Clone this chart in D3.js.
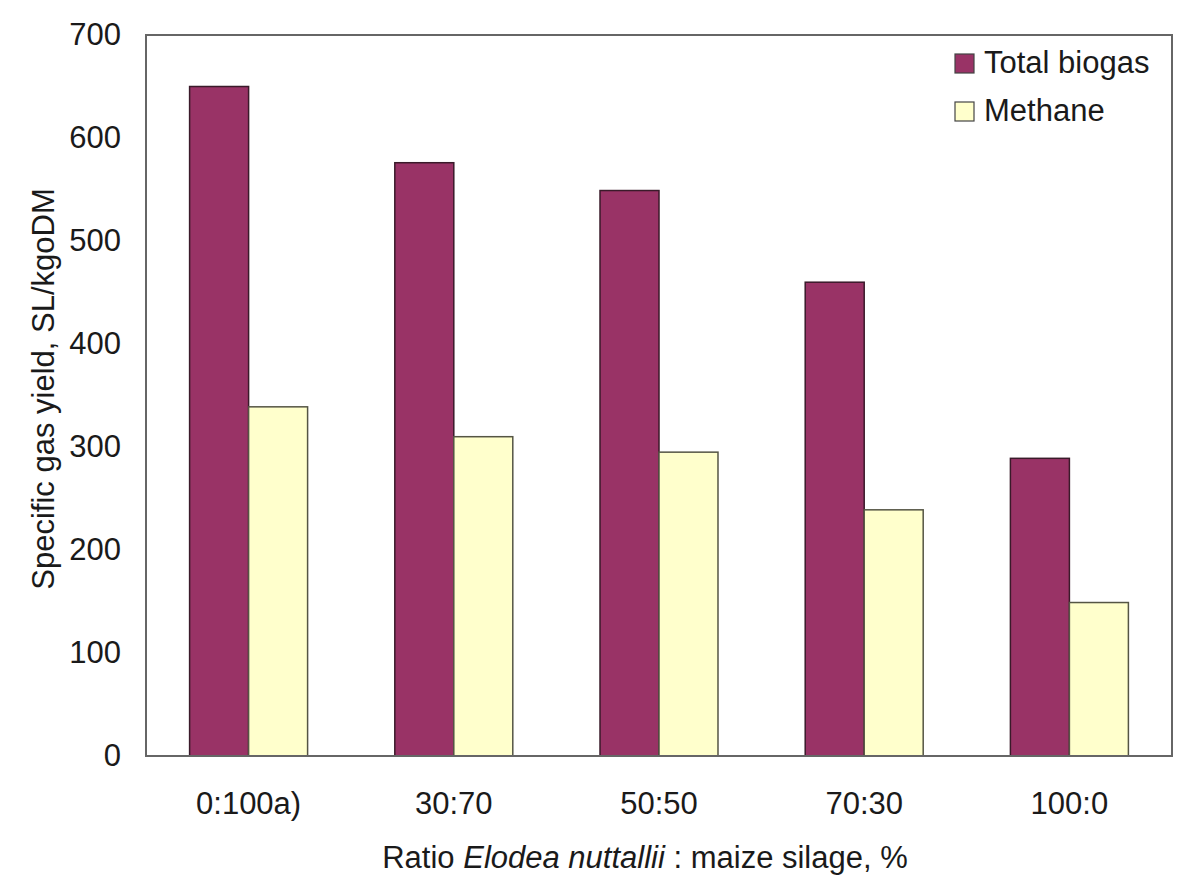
<!DOCTYPE html>
<html><head><meta charset="utf-8">
<script src="https://cdn.jsdelivr.net/npm/d3@7"></script>
<style>body{margin:0;background:#fff}svg text{font-family:"Liberation Sans",Arial,sans-serif;fill:#1a1a1a}</style>
</head><body><svg id="c" width="1200" height="884"></svg>
<script>
const categories = ["0:100a)", "30:70", "50:50", "70:30", "100:0"];
const totalBiogas = [650, 576, 549, 460, 289];
const methane = [339, 310, 295, 239, 149];
const seriesNames = ["Total biogas", "Methane"];
const seriesColors = ["#993366", "#FFFFCC"];
const yTicks = [0, 100, 200, 300, 400, 500, 600, 700];

const FS = "31px";
const svg = d3.select("#c");
const m = {l:146, r:1172, t:35, b:756};
const x = d3.scaleBand().domain(categories).range([m.l, m.r]).paddingInner(0.425).paddingOuter(0.2125);
const xs = d3.scaleBand().domain(seriesNames).range([0, x.bandwidth()]);
const y = d3.scaleLinear().domain([0, 700]).range([m.b, m.t]);

const ya = svg.append("g").attr("transform", `translate(${m.l},0)`)
  .call(d3.axisLeft(y).tickValues(yTicks).tickSize(0).tickPadding(25));
ya.select(".domain").remove();
ya.selectAll("text").style("font-size",FS).attr("fill","#1a1a1a").style("font-family","Liberation Sans, Arial, sans-serif");

const xa = svg.append("g").attr("transform", `translate(0,${m.b})`)
  .call(d3.axisBottom(x).tickSize(0).tickPadding(36));
xa.select(".domain").remove();
xa.selectAll("text").style("font-size",FS).attr("fill","#1a1a1a").style("font-family","Liberation Sans, Arial, sans-serif");

const data = categories.map((c,i)=>({c, vals:[totalBiogas[i], methane[i]]}));
const g = svg.append("g");
data.forEach(d=>{
  d.vals.forEach((v,j)=>{
    g.append("rect")
      .attr("x", x(d.c)+xs(seriesNames[j]))
      .attr("y", y(v))
      .attr("width", xs.bandwidth())
      .attr("height", y(0)-y(v))
      .attr("fill", seriesColors[j])
      .attr("stroke", j===0 ? "#3a1a2a" : "#555544")
      .attr("stroke-width", 1.5);
  });
});

svg.append("rect").attr("x", m.l).attr("y", m.t).attr("width", m.r-m.l).attr("height", m.b-m.t)
  .attr("fill","none").attr("stroke","#666").attr("stroke-width",2);

const lg = svg.append("g");
seriesNames.forEach((n,i)=>{
  const yy = 54 + i*48;
  lg.append("rect").attr("x",955).attr("y",yy).attr("width",19).attr("height",19)
    .attr("fill",seriesColors[i]).attr("stroke","#444").attr("stroke-width",1.2);
  lg.append("text").attr("x",984).attr("y",yy+19).style("font-size",FS).text(n);
});

svg.append("text").attr("transform","translate(54,389) rotate(-90)").attr("text-anchor","middle")
  .style("font-size",FS).text("Specific gas yield, SL/kgoDM");

const xt = svg.append("text").attr("x", 645).attr("y", 868).attr("text-anchor","middle").style("font-size",FS);
xt.append("tspan").text("Ratio ");
xt.append("tspan").style("font-style","italic").text("Elodea nuttallii");
xt.append("tspan").text(" : maize silage, %");
</script></body></html>
